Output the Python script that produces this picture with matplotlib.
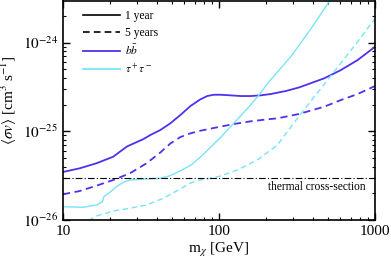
import numpy as np
import matplotlib
matplotlib.use('Agg')
import matplotlib.pyplot as plt
from matplotlib.lines import Line2D
from matplotlib.ticker import NullFormatter, LogLocator

plt.rcParams['font.family'] = ['Liberation Serif', 'DejaVu Serif']
plt.rcParams['mathtext.fontset'] = 'stix'

# masses [GeV] and cross-section limits [cm^3 s^-1]
bb_1yr_m = [10, 12.81, 16.37, 20.97, 25.68, 32.85, 36.27, 42.05, 48.77, 56.56, 65.57,
            76.03, 83.99, 92.60, 102.2, 118.6, 137.5, 159.4, 184.9, 214.4, 267.7,
            324.6, 472.1, 604.5, 773.9, 1000]
bb_1yr_sv = [3.48e-26, 3.83e-26, 4.36e-26, 5.17e-26, 6.74e-26, 8.19e-26, 9.08e-26,
             1.034e-25, 1.231e-25, 1.527e-25, 1.928e-25, 2.295e-25, 2.50e-25, 2.585e-25,
             2.585e-25, 2.545e-25, 2.50e-25, 2.50e-25, 2.545e-25, 2.633e-25, 2.847e-25,
             3.118e-25, 3.958e-25, 4.911e-25, 6.365e-25, 8.99e-25]

bb_5yr_m = [10, 12.81, 16.37, 20.97, 26.85, 34.33, 42.05, 48.77, 56.56, 65.57, 76.03,
            97.36, 124.5, 159.4, 204.2, 236.7, 324.6, 472.1, 604.5, 773.9, 1000]
bb_5yr_sv = [1.949e-26, 2.123e-26, 2.436e-26, 2.825e-26, 3.362e-26, 4.36e-26, 5.77e-26,
             7.29e-26, 8.62e-26, 9.49e-26, 1.016e-25, 1.110e-25, 1.209e-25, 1.297e-25,
             1.366e-25, 1.401e-25, 1.567e-25, 1.894e-25, 2.254e-25, 2.633e-25, 3.242e-25]

tau_1yr_m = [10, 13.45, 16.37, 17.89, 18.27, 19.97, 22.02, 24.31, 26.85, 34.33, 41.87,
             48.56, 56.31, 66.85, 76.03, 86.0, 102.2, 118.6, 159.4, 180.3, 209.1, 288.3,
             387.6, 515.8, 604.5]
tau_1yr_sv = [1.412e-26, 1.391e-26, 1.476e-26, 1.608e-26, 1.831e-26, 2.053e-26,
              2.374e-26, 2.661e-26, 2.825e-26, 2.90e-26, 2.953e-26, 3.159e-26, 3.568e-26,
              4.224e-26, 5.13e-26, 6.32e-26, 8.51e-26, 1.127e-25, 1.979e-25, 2.566e-25,
              3.624e-25, 6.934e-25, 1.423e-24, 3.022e-24, 4.46e-24]

tau_5yr_m = [12.86, 14.85, 16.37, 20.97, 26.85, 34.33, 43.96, 56.31, 66.85, 76.03, 88.18,
             102.2, 130.9, 176.1, 236.7, 288.3, 369.1, 472.1, 604.5, 773.9, 1000]
tau_5yr_sv = [9.13e-27, 1.0e-26, 1.109e-26, 1.263e-26, 1.355e-26, 1.476e-26, 1.756e-26,
              2.236e-26, 2.647e-26, 2.825e-26, 2.953e-26, 3.134e-26, 3.662e-26, 4.748e-26,
              7.008e-26, 1.118e-25, 1.964e-25, 3.388e-25, 5.888e-25, 1.023e-24, 1.879e-24]

thermal_sv = 3e-26

y_ticks = [1e-26, 1e-25, 1e-24]
y_ticklabels = [r'$10^{-26}$', r'$10^{-25}$', r'$10^{-24}$']
x_ticks = [10, 100, 1000]
x_ticklabels = ['10', '100', '1000']

blue = '#5030ee'
cyan = '#78e4f6'

fig = plt.figure(figsize=(3.91, 2.65), dpi=100)
ax = fig.add_axes([63/391, 1 - 220/265, 312/391, 219/265])

ax.plot(bb_1yr_m, bb_1yr_sv, color=blue, lw=1.3)
ax.plot(bb_5yr_m, bb_5yr_sv, color=blue, lw=1.3, ls=(0, (4, 2.5)))
ax.plot(tau_1yr_m, tau_1yr_sv, color=cyan, lw=1.0)
ax.plot(tau_5yr_m, tau_5yr_sv, color=cyan, lw=1.0, ls=(0, (4, 2.5)))
ax.axhline(thermal_sv, color='black', lw=0.8, ls=(0, (6, 2, 1, 2)))
ax.text(0.971, 2.34e-26, 'thermal cross-section', transform=ax.get_yaxis_transform(),
        ha='right', va='center', fontsize=8.3)

ax.set_xscale('log')
ax.set_yscale('log')
ax.set_xlim(10, 1000)
ax.set_ylim(1e-26, 2.95e-24)
ax.set_xticks(x_ticks)
ax.set_xticklabels(x_ticklabels)
ax.set_yticks(y_ticks)
ax.set_yticklabels(y_ticklabels)
ax.yaxis.set_minor_locator(LogLocator(base=10, subs=np.arange(2, 10)))
ax.xaxis.set_minor_formatter(NullFormatter())
ax.yaxis.set_minor_formatter(NullFormatter())

ax.tick_params(which='both', direction='in', top=True, right=True, labelsize=11)
ax.tick_params(which='major', length=5, width=1)
ax.tick_params(which='minor', length=2.5, width=0.8)
for s in ax.spines.values():
    s.set_linewidth(1.2)

ax.set_xlabel(r'm$_\chi$ [GeV]', fontsize=11, labelpad=2)
ax.set_ylabel(r'$\langle\sigma v\rangle$ [cm$^3$ s$^{-1}$]', fontsize=11)
ax.yaxis.set_label_coords(-0.141, 0.548)

handles = [Line2D([], [], color='black', lw=1.2),
           Line2D([], [], color='black', lw=1.2, ls=(0, (4, 2.5))),
           Line2D([], [], color=blue, lw=1.3),
           Line2D([], [], color=cyan, lw=1.3)]
labels = ['1 year', '5 years', r'$b\bar{b}$', r'$\tau^+\tau^-$']
ax.legend(handles, labels, loc='upper left', bbox_to_anchor=(0.064, 0.96),
          frameon=False, fontsize=8.3, handlelength=3.2, handletextpad=0.45,
          labelspacing=0.42, borderpad=0, borderaxespad=0)

fig.savefig('out.png', dpi=100)
